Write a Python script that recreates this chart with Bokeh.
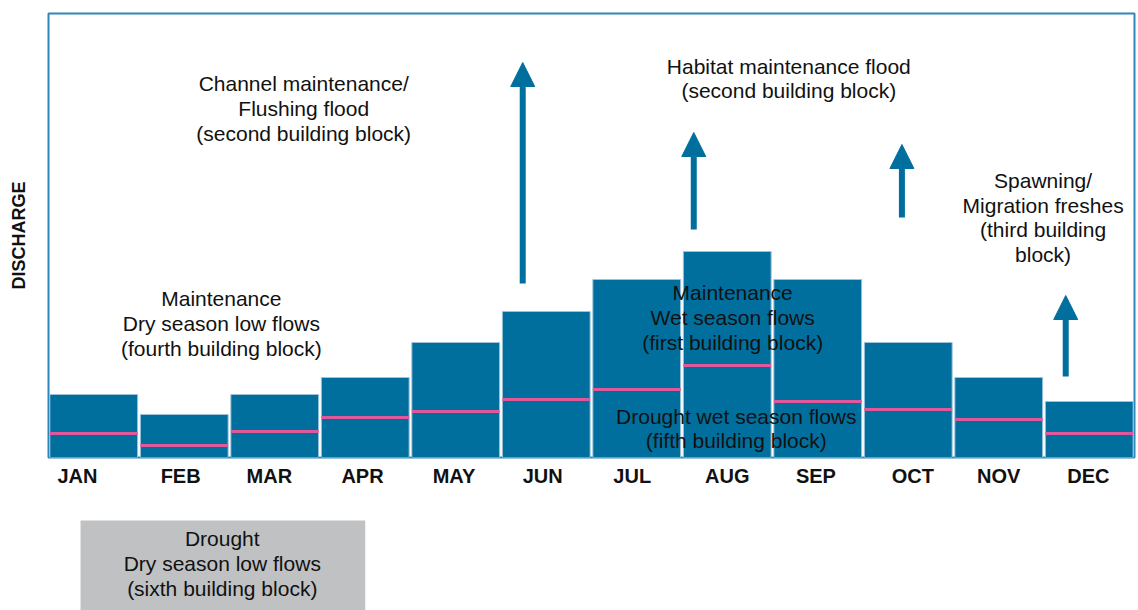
from bokeh.plotting import figure
from bokeh.models import (Range1d, FixedTicker, ColumnDataSource, Arrow, NormalHead)
from bokeh.layouts import column
from bokeh.core.properties import value
from bokeh.embed import file_html
from bokeh.resources import INLINE

# ---------------- data ----------------
months = ["JAN", "FEB", "MAR", "APR", "MAY", "JUN", "JUL", "AUG", "SEP", "OCT", "NOV", "DEC"]
# maintenance flows (bar tops), arbitrary discharge units
maintenance_flow = [63, 43, 63, 80, 115, 146, 178, 206, 178, 115, 80, 56]
# drought flows (pink lines)
drought_flow = [24, 12, 26, 40, 46, 58, 68, 92, 56, 48, 38, 24]
# where each month label sits along the axis (as in the original figure)
label_pos = [0.32, 1.46, 2.44, 3.47, 4.48, 5.46, 6.45, 7.50, 8.48, 9.55, 10.50, 11.49]

# high-flow events (arrows): month position, start and end discharge
flood_x = [5.24, 7.13, 9.43, 11.24]
flood_start = [174, 228, 240, 81]
flood_end = [395, 325, 313, 162]

# annotation texts
note_text = [
    "Channel maintenance/\nFlushing flood\n(second building block)",
    "Habitat maintenance flood\n(second building block)",
    "Spawning/\nMigration freshes\n(third building\nblock)",
    "Maintenance\nDry season low flows\n(fourth building block)",
    "Maintenance\nWet season flows\n(first building block)",
    "Drought wet season flows\n(fifth building block)",
]
note_x = [2.82, 8.18, 10.99, 1.91, 7.56, 7.60]
note_y = [349, 379, 240, 134, 140, 29]
box_text = "Drought\nDry season low flows\n(sixth building block)"

# ---------------- styles ----------------
BAR = "#006f9e"
PINK = "#e0579b"
FONT = value("Liberation Sans")
W = 1138

centers = [i + 0.5 for i in range(len(months))]
bw = 0.97

p = figure(width=W, height=508, output_backend="svg", toolbar_location=None,
           x_range=Range1d(0, len(months)), y_range=Range1d(0, 444),
           min_border_left=48, min_border_right=4, min_border_top=13, min_border_bottom=51)
p.grid.visible = False
p.outline_line_color = "#2f86ba"
p.outline_line_width = 2
p.background_fill_color = "white"
p.border_fill_color = "white"

src = ColumnDataSource(dict(x=centers, top=maintenance_flow, dry=drought_flow,
                            x0=[c - bw / 2 for c in centers], x1=[c + bw / 2 for c in centers]))
p.vbar(x="x", top="top", bottom=0, width=bw, source=src, fill_color=BAR,
       line_color="#9cc3da", line_width=1)
p.segment(x0="x0", x1="x1", y0="dry", y1="dry", source=src, line_color=PINK, line_width=3)

asrc = ColumnDataSource(dict(x=flood_x, y0=flood_start, y1=flood_end))
p.add_layout(Arrow(x_start="x", y_start="y0", x_end="x", y_end="y1", source=asrc,
                   line_color=BAR, line_width=6,
                   end=NormalHead(size=24, fill_color=BAR, line_color=BAR, line_width=1)))

p.text(x=note_x, y=note_y, text=note_text, text_align="center", text_baseline="middle",
       text_font=FONT, text_font_size="21px", text_line_height=1.07, text_color="#111111")

# axes
p.xaxis.ticker = FixedTicker(ticks=label_pos)
p.xaxis.major_label_overrides = {c: m for c, m in zip(label_pos, months)}
p.xaxis.major_label_text_font = "Liberation Sans"
p.xaxis.major_label_text_font_style = "bold"
p.xaxis.major_label_text_font_size = "20px"
p.xaxis.major_label_text_color = "#111111"
p.xaxis.major_label_standoff = 1
p.xaxis.major_tick_line_color = None
p.xaxis.minor_tick_line_color = None
p.xaxis.axis_line_color = None

p.yaxis.ticker = FixedTicker(ticks=[])
p.yaxis.major_label_text_font_size = "0px"
p.yaxis.major_tick_line_color = None
p.yaxis.minor_tick_line_color = None
p.yaxis.axis_line_color = None
p.yaxis.axis_label = "DISCHARGE"
p.yaxis.axis_label_text_font = "Liberation Sans"
p.yaxis.axis_label_text_font_style = "bold"
p.yaxis.axis_label_text_font_size = "18px"
p.yaxis.axis_label_text_color = "#111111"
p.yaxis.axis_label_standoff = 20

# lower panel with the grey box
q = figure(width=W, height=102, output_backend="svg", toolbar_location=None,
           x_range=Range1d(0, len(months)), y_range=Range1d(0, 102),
           x_axis_type=None, y_axis_type=None,
           min_border_left=48, min_border_right=4, min_border_top=0, min_border_bottom=0)
q.grid.visible = False
q.outline_line_color = None
q.quad(left=[0.354], right=[3.50], bottom=[0], top=[90], fill_color="#c0c1c3", line_color=None)
q.text(x=[1.92], y=[47], text=[box_text], text_align="center", text_baseline="middle",
       text_font=FONT, text_font_size="21px", text_line_height=1.07, text_color="#111111")

layout = column(p, q, spacing=0)
open("out.html", "w").write(file_html(layout, INLINE))
